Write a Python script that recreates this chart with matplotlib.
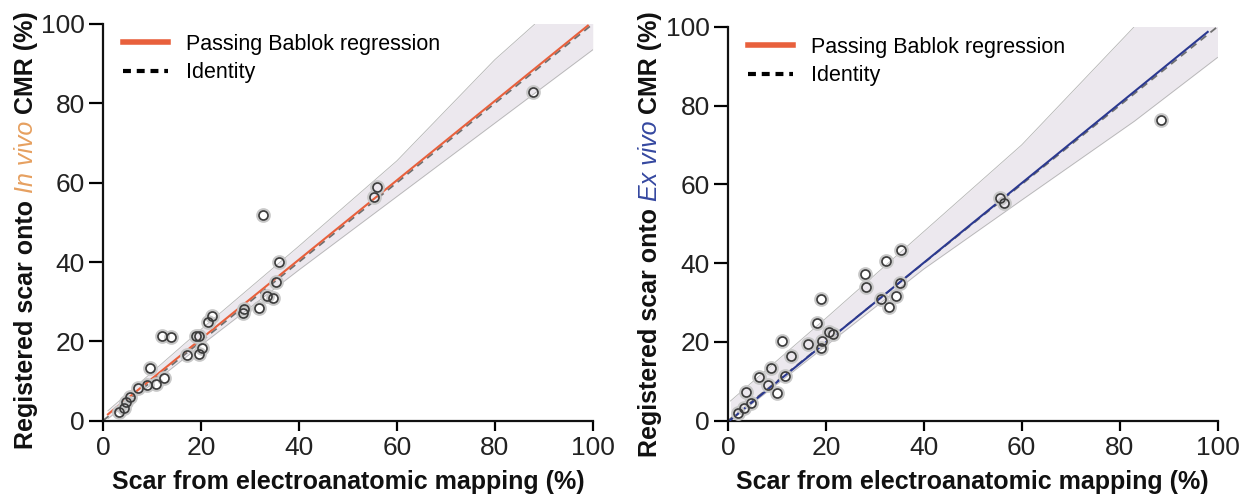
import matplotlib.pyplot as plt
import numpy as np
from matplotlib.lines import Line2D

plt.rcParams['font.family'] = ['Liberation Sans', 'DejaVu Sans']

# In vivo CMR vs electroanatomic mapping
invivo_x = [87.8, 55.9, 55.4, 32.6, 35.9, 35.4, 33.4, 34.8, 31.8, 28.8, 28.5,
            22.2, 21.4, 12.0, 13.8, 19.0, 19.7, 20.3, 19.7, 17.1, 9.6, 12.4,
            10.8, 8.9, 7.2, 5.5, 4.7, 4.3, 3.3]
invivo_y = [82.8, 58.9, 56.4, 51.8, 40.1, 35.0, 31.4, 31.0, 28.3, 28.1, 27.2,
            26.5, 24.9, 21.3, 21.2, 21.4, 21.3, 18.2, 16.8, 16.5, 13.2, 10.7,
            9.2, 9.0, 8.2, 6.0, 4.8, 3.1, 2.3]

# Ex vivo CMR vs electroanatomic mapping
exvivo_x = [88.5, 55.6, 56.4, 35.3, 32.2, 27.9, 28.1, 35.1, 34.3, 31.2, 32.9,
            18.9, 18.2, 20.6, 21.5, 16.3, 19.3, 19.1, 11.1, 12.9, 8.7, 11.6,
            6.3, 8.2, 10.1, 3.6, 4.8, 3.3, 2.1]
exvivo_y = [76.2, 56.5, 55.2, 43.2, 40.6, 37.2, 34.0, 34.9, 31.7, 30.9, 28.8,
            30.9, 24.7, 22.4, 21.9, 19.5, 20.2, 18.4, 20.2, 16.4, 13.3, 11.4,
            11.2, 9.1, 7.1, 7.2, 4.4, 3.1, 2.0]

# Passing Bablok fits (start/end x, intercept, slope)
invivo_fit = dict(x=[1.0, 99.0], a=0.6, b=1.0)
exvivo_fit = dict(x=[0.5, 98.0], a=-0.3, b=1.01)

# confidence band edges
invivo_band_x = [1, 20, 40, 60, 80, 100]
invivo_band_hi = [2.5, 23.0, 44.0, 65.5, 91.0, 113.0]
invivo_band_lo = [0.5, 19.0, 38.0, 56.5, 75.0, 93.5]

exvivo_band_x = [0.5, 20, 40, 60, 83, 100]
exvivo_band_hi = [5.0, 26.0, 48.0, 70.0, 100.0, 120.0]
exvivo_band_lo = [0.0, 19.0, 38.5, 56.0, 76.0, 92.2]

ticks = [0, 20, 40, 60, 80, 100]

W, H = 1250, 501
fig = plt.figure(figsize=(W / 100, H / 100), dpi=100)
ax1 = fig.add_axes([0.0824, 0.1603, 0.3918, 0.7918])
ax2 = fig.add_axes([0.5824, 0.1603, 0.3916, 0.7864])

orange = '#e8603c'
navy = '#2b3990'
band_col = '#ece8ee'


def panel(ax, xs, ys, fit, bx, bhi, blo, line_col):
    ax.fill_between(bx, blo, bhi, color=band_col, lw=0, zorder=1)
    ax.plot(bx, bhi, color='#b5b5b5', lw=0.6, zorder=1.5)
    ax.plot(bx, blo, color='#b5b5b5', lw=0.6, zorder=1.5)
    ax.plot([0, 100], [0, 100], color='#707070', lw=1.3, ls=(0, (4, 3)), zorder=2)
    fx = np.array(fit['x'])
    ax.plot(fx, fit['a'] + fit['b'] * fx, color=line_col, lw=1.5, zorder=3)
    ax.plot(xs, ys, 'o', ms=8, mfc='none', mec='#c8c8c8', mew=2.6, zorder=4)
    ax.plot(xs, ys, 'o', ms=6.5, mfc='none', mec='#3c3c3c', mew=1.2, zorder=5)
    ax.set_xlim(0, 100)
    ax.set_ylim(0, 100)
    ax.set_xticks(ticks)
    ax.set_yticks(ticks)
    for s in ['top', 'right']:
        ax.spines[s].set_visible(False)
    for s in ['left', 'bottom']:
        ax.spines[s].set_linewidth(1.6)
        ax.spines[s].set_color('#111111')
    ax.tick_params(axis='y', direction='out', length=10, width=1.6,
                   labelsize=19, labelcolor='#222222', pad=3)
    ax.tick_params(axis='x', direction='out', length=7, width=1.6,
                   labelsize=19, labelcolor='#222222', pad=4)
    ax.set_xlabel('Scar from electroanatomic mapping (%)', fontsize=18,
                  fontweight='bold', color='#111111', labelpad=7)
    handles = [Line2D([], [], color=orange, lw=4),
               Line2D([], [], color='black', lw=3, ls=(0, (1.9, 1.4)))]
    ax.legend(handles, ['Passing Bablok regression', 'Identity'],
              loc='upper left', bbox_to_anchor=(0.041, 0.975), frameon=False,
              borderpad=0, borderaxespad=0, handlelength=2.1,
              handletextpad=0.8, labelspacing=0.35, fontsize=15.5)


panel(ax1, invivo_x, invivo_y, invivo_fit, invivo_band_x, invivo_band_hi,
      invivo_band_lo, orange)
panel(ax2, exvivo_x, exvivo_y, exvivo_fit, exvivo_band_x, exvivo_band_hi,
      exvivo_band_lo, navy)


def ylabel_parts(parts, x_px, yc_px):
    fig.canvas.draw()
    r = fig.canvas.get_renderer()
    txts = []
    for s, col, st, wt in parts:
        t = fig.text(0, 0, s, rotation=90, color=col, style=st, fontweight=wt,
                     fontsize=18, ha='center', va='bottom')
        txts.append(t)
    hs = [t.get_window_extent(r).height for t in txts]
    y = yc_px - sum(hs) / 2
    for t, h in zip(txts, hs):
        t.set_position((x_px / W, y / H))
        y += h


ylabel_parts([('Registered scar onto ', '#111111', 'normal', 'bold'),
              ('In vivo', '#e6a060', 'italic', 'normal'),
              (' CMR (%)', '#111111', 'normal', 'bold')], 26, H - 230)
ylabel_parts([('Registered scar onto ', '#111111', 'normal', 'bold'),
              ('Ex vivo', '#3548a0', 'italic', 'normal'),
              (' CMR (%)', '#111111', 'normal', 'bold')], 650, H - 234)

fig.savefig('out.png', dpi=100)
